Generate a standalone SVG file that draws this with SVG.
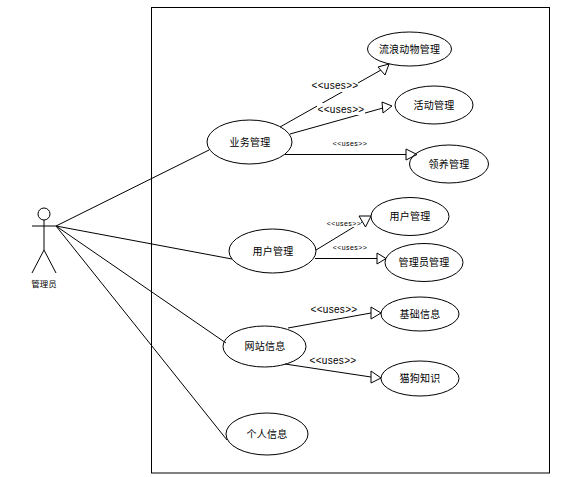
<svg xmlns="http://www.w3.org/2000/svg" width="580" height="477" viewBox="0 0 580 477">
<style>
.b{fill:none;stroke:#000;stroke-width:1}
.u{fill:#fff;stroke:#000;stroke-width:1}
.c{fill:none;stroke:#000;stroke-width:1}
.h{fill:#fff;stroke:none}
text{font-family:"Noto Sans CJK SC","Liberation Sans",sans-serif;fill:#000;text-anchor:middle}
.t{font-size:10px;letter-spacing:.2px}
.l{font-family:"Liberation Sans",sans-serif;font-size:10px;letter-spacing:.3px}
.s{font-family:"Liberation Sans",sans-serif;font-size:7px;letter-spacing:.4px}
</style>
<rect width="580" height="477" fill="#fff"/>
<rect id="boundary" class="b" x="151.500" y="7.500" width="398" height="465.500"/>
<g id="connectors">
<path class="c" d="M56 226L209 150M56 226L232 259M56 226L226 343M56 226L227 440"/>
<path class="c" d="M280 127L381 70"/>
<path class="c" d="M290 134L383 108"/>
<path class="c" d="M285 154.500H406"/>
<path class="c" d="M316 250L362 222"/>
<path class="c" d="M315 258.500H377"/>
<path class="c" d="M288 328L371 313"/>
<path class="c" d="M285 364L371 377"/>
<rect class="h" x="312" y="80" width="46" height="12"/>
<rect class="h" x="317" y="103" width="48" height="12"/>
<rect class="h" x="325" y="218" width="36" height="9"/>
<polygon class="u" points="389,64 378,67 385,75"/>
<polygon class="u" points="392,106 382,102 383,113"/>
<polygon class="u" points="406,149 406,160 417,154.500"/>
<polygon class="u" points="359,216 371,216 365.500,227"/>
<polygon class="u" points="377,253 377,264 386,258.500"/>
<polygon class="u" points="371,307 371,319 381,313"/>
<polygon class="u" points="371,371 371,383 381,378"/>
<text class="l" x="335" y="89">&lt;&lt;uses&gt;&gt;</text>
<text class="l" x="341" y="113">&lt;&lt;uses&gt;&gt;</text>
<text class="s" x="350" y="146">&lt;&lt;uses&gt;&gt;</text>
<text class="s" x="344" y="226">&lt;&lt;uses&gt;&gt;</text>
<text class="s" x="350" y="250">&lt;&lt;uses&gt;&gt;</text>
<text class="l" x="334" y="313">&lt;&lt;uses&gt;&gt;</text>
<text class="l" x="333" y="364">&lt;&lt;uses&gt;&gt;</text>
</g>
<g id="actor">
<circle class="b" cx="44" cy="214" r="6"/>
<path class="b" d="M32 226H56M44 220V250L32 273M44 250L56 273"/>
<text x="44" y="287" style="font-size:8.500px">管理员</text>
</g>
<g id="n1"><ellipse class="b" cx="409.500" cy="49" rx="42" ry="17"/><text class="t" x="409.500" y="53">流浪动物管理</text></g>
<g id="n2"><ellipse class="b" cx="434" cy="105" rx="39" ry="19"/><text class="t" x="434" y="109">活动管理</text></g>
<g id="n3"><ellipse class="b" cx="449" cy="164" rx="39.500" ry="19"/><text class="t" x="449" y="168">领养管理</text></g>
<g id="n4"><ellipse class="b" cx="249.500" cy="142" rx="42.500" ry="22"/><text class="t" x="250" y="146">业务管理</text></g>
<g id="n5"><ellipse class="b" cx="272.500" cy="251" rx="43.500" ry="22"/><text class="t" x="273" y="255">用户管理</text></g>
<g id="n6"><ellipse class="b" cx="410" cy="216.500" rx="39" ry="19"/><text class="t" x="410" y="220">用户管理</text></g>
<g id="n7"><ellipse class="b" cx="424" cy="262.500" rx="39" ry="19"/><text class="t" x="424" y="266">管理员管理</text></g>
<g id="n8"><ellipse class="b" cx="420" cy="314" rx="39" ry="17"/><text class="t" x="420" y="318">基础信息</text></g>
<g id="n9"><ellipse class="b" cx="420" cy="378.500" rx="39" ry="17.500"/><text class="t" x="420" y="382">猫狗知识</text></g>
<g id="n10"><ellipse class="b" cx="264.500" cy="346.500" rx="41.500" ry="20.500"/><text class="t" x="265" y="350">网站信息</text></g>
<g id="n11"><ellipse class="b" cx="267" cy="434" rx="41" ry="21"/><text class="t" x="267" y="438">个人信息</text></g>
</svg>
